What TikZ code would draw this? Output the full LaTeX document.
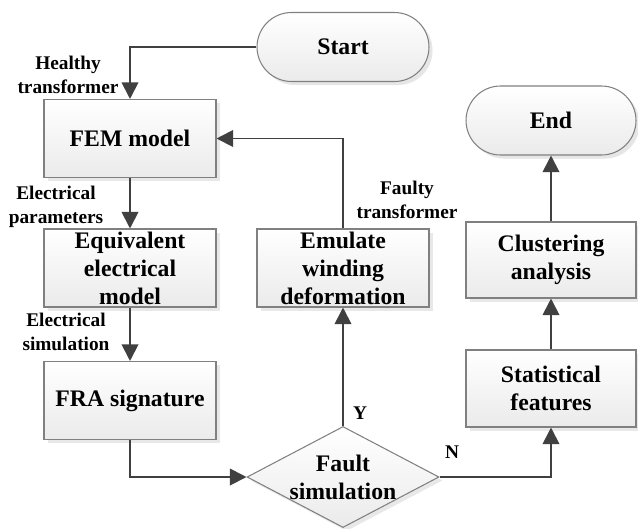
\documentclass[tikz,border=0pt]{standalone}
\usepackage{fontspec}
\setmainfont{LiberationSerif}[Extension=.ttf, UprightFont=*-Regular, BoldFont=*-Bold]
\usetikzlibrary{arrows.meta,shapes.geometric,shapes.misc,shadows}

\definecolor{linegray}{HTML}{404040}
\definecolor{edgegray}{HTML}{808080}

\tikzset{
  box/.style={draw=edgegray, line width=0.6pt, top color=white, bottom color=gray!16,
    drop shadow={shadow xshift=2pt, shadow yshift=-2pt, fill=gray!35},
    minimum width=3.44cm, minimum height=1.56cm, inner sep=0pt, align=center,
    font=\fontsize{13.5}{16}\selectfont\bfseries},
  pill/.style={box, rounded rectangle, minimum height=1.38cm, drop shadow={shadow xshift=2pt, shadow yshift=-2pt, fill=gray!20}},
  decision/.style={box, diamond, aspect=1.9, minimum width=3.8cm, minimum height=2cm},
  arr/.style={draw=linegray, line width=1.1pt, -{Triangle[length=9.5pt,width=9.5pt]}},
  lbl/.style={align=center, font=\fontsize{11}{13.5}\selectfont\bfseries}
}

\begin{document}
\begin{tikzpicture}[x=0.02cm,y=-0.02cm]
  \useasboundingbox (0,0) rectangle (638,528);

  % left column
  \node[pill] (start) at (343,47) {Start};
  \node[box] (fem) at (130,138.5) {FEM model};
  \node[box] (equiv) at (130,268) {Equivalent\\electrical\\model};
  \node[box] (fra) at (130,400.5) {FRA signature};

  % middle
  \node[decision] (fault) at (343,477) {Fault\\simulation};
  \node[box] (emulate) at (343,268) {Emulate\\winding\\deformation};

  % right column
  \node[box, minimum width=3.4cm, minimum height=1.54cm] (stat) at (551,388.5) {Statistical\\features};
  \node[box, minimum width=3.4cm, minimum height=1.52cm] (clust) at (551,260) {Clustering\\analysis};
  \node[pill, minimum width=3.4cm] (end) at (551,120.5) {End};

  % arrows
  \draw[arr] (start.west) -| (fem.north);
  \draw[arr] (fem.south) -- (equiv.north);
  \draw[arr] (equiv.south) -- (fra.north);
  \draw[arr] (fra.south) |- (fault.west);
  \draw[arr] (fault.north) -- (emulate.south);
  \draw[arr] (emulate.north) |- (fem.east);
  \draw[arr] (fault.east) -| (stat.south);
  \draw[arr] (stat.north) -- (clust.south);
  \draw[arr] (clust.north) -- (end.south);

  % labels
  \node[lbl] (healthy) at (68,75) {Healthy\\transformer};
  \node[lbl] (params) at (56,207) {Electrical\\parameters};
  \node[lbl] (elsim) at (66,332) {Electrical\\simulation};
  \node[lbl] (faulty) at (407,200) {Faulty\\transformer};
  \node[lbl] (yes) at (360,413) {Y};
  \node[lbl] (no) at (452,452) {N};
\end{tikzpicture}
\end{document}
